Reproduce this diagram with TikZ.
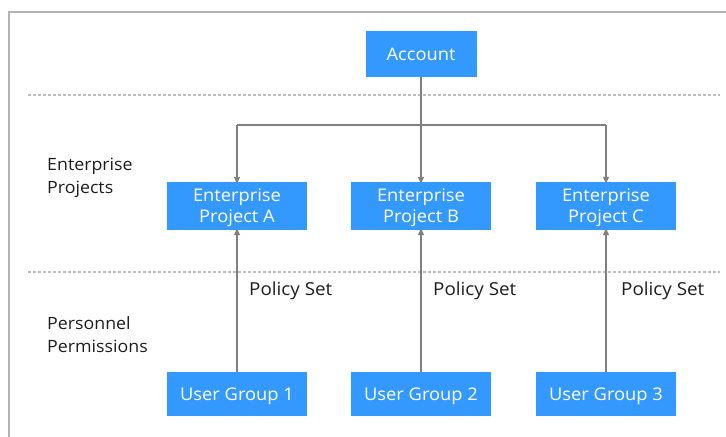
\documentclass[tikz,border=0pt]{standalone}
\usepackage{fontspec}
\setmainfont{Open Sans}
\newfontfamily\osf[FakeStretch=1.05]{Open Sans}
\usetikzlibrary{arrows.meta}
\definecolor{boxblue}{RGB}{51,153,255}
\definecolor{conngray}{RGB}{128,128,128}
\definecolor{framegray}{RGB}{180,180,180}
\definecolor{dashgray}{RGB}{190,190,190}
\definecolor{txtdark}{RGB}{30,30,30}
\tikzset{
  bluebox/.style={fill=boxblue, text=white, inner sep=0pt, align=center,
    minimum width=140bp, minimum height=46bp, text height=12.5bp, text depth=0bp,
    font=\osf\fontsize{17.5}{21.5}\selectfont},
  twoline/.style={text height=34bp, text depth=0bp},
  conn/.style={draw=conngray, line width=1.2bp, -{Triangle[length=7bp,width=6bp]}},
  busline/.style={draw=conngray, line width=1.2bp},
  sepline/.style={draw=dashgray, line width=1.5bp, dash pattern=on 3bp off 2bp},
  sidelabel/.style={anchor=west, align=left, inner sep=0pt, text=txtdark,
    text height=35bp, text depth=0bp,
    font=\osf\fontsize{17}{23}\selectfont},
  policylabel/.style={anchor=west, inner sep=0pt, text=txtdark,
    text height=13bp, text depth=0bp,
    font=\osf\fontsize{18}{21}\selectfont},
}
\begin{document}
\begin{tikzpicture}[x=1bp,y=-1bp]
\useasboundingbox (0,0) rectangle (726,437);
\fill[white] (0,0) rectangle (726,437);
% frame
\draw[framegray, line width=2bp] (9,437) -- (9,12) -- (726,12);
% separators
\draw[sepline] (28,95) -- (720,95);
\draw[sepline] (28,272) -- (720,272);
% nodes
\node[bluebox, minimum width=111bp] (acc) at (421,54) {Account};
\node[bluebox, twoline, minimum height=48bp] (e1) at (237,206) {Enterprise\\Project A};
\node[bluebox, twoline, minimum height=48bp] (e2) at (421,206) {Enterprise\\Project B};
\node[bluebox, twoline, minimum height=48bp] (e3) at (606,206) {Enterprise\\Project C};
\node[bluebox, minimum height=44bp] (u1) at (237,394) {User Group 1};
\node[bluebox, minimum height=44bp] (u2) at (421,394) {User Group 2};
\node[bluebox, minimum height=44bp] (u3) at (606,394) {User Group 3};
\node[sidelabel] (lep) at (47,176) {Enterprise\\Projects};
\node[sidelabel] (lpp) at (47,335) {Personnel\\Permissions};
\node[policylabel] (p1) at (249,289.5) {Policy Set};
\node[policylabel] (p2) at (433,289.5) {Policy Set};
\node[policylabel] (p3) at (621,289.5) {Policy Set};
% connectors
\coordinate (bus) at (421,125);
\draw[busline] (acc.south) -- (bus);
\draw[busline] (bus -| e1) -- (bus -| e3);
\draw[conn] (bus) -- ([yshift=-2bp]e2.north);
\draw[conn] (bus -| e1) -- ([yshift=-2bp]e1.north);
\draw[conn] (bus -| e3) -- ([yshift=-2bp]e3.north);
\draw[conn] (u1.north) -- ([yshift=2bp]e1.south);
\draw[conn] (u2.north) -- ([yshift=2bp]e2.south);
\draw[conn] (u3.north) -- ([yshift=2bp]e3.south);
\end{tikzpicture}
\end{document}
